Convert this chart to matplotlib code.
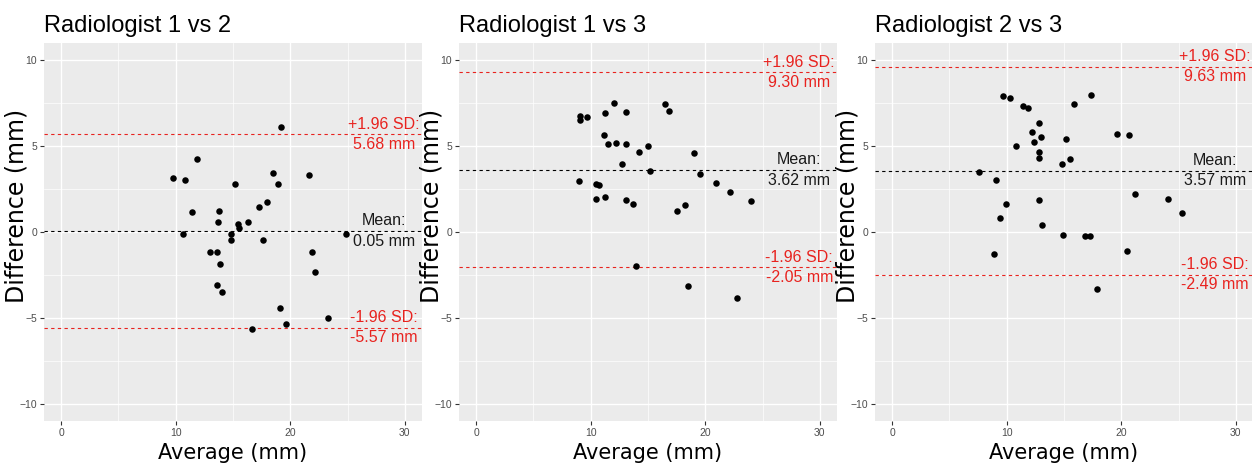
import matplotlib
matplotlib.use("Agg")
import matplotlib.pyplot as plt
import numpy as np

plt.rcParams['font.family'] = ['Liberation Sans', 'DejaVu Sans']

# Bland-Altman data (average, difference in mm)
titles = ["Radiologist 1 vs 2", "Radiologist 1 vs 3", "Radiologist 2 vs 3"]

avg_12 = [9.8, 10.8, 11.9, 11.4, 10.6, 15.2, 13.8, 13.7, 13.0, 13.6, 13.9, 13.6, 14.0,
          14.8, 14.8, 15.4, 15.5, 16.3, 17.3, 18.0, 17.6, 18.5, 18.9, 19.2, 21.6, 21.9,
          22.2, 19.1, 19.6, 16.7, 23.3, 24.9]
diff_12 = [3.17, 3.01, 4.25, 1.15, -0.14, 2.78, 1.20, 0.58, -1.18, -1.18, -1.86, -3.09, -3.51,
           -0.10, -0.47, 0.45, 0.21, 0.58, 1.46, 1.73, -0.47, 3.46, 2.78, 6.12, 3.34, -1.18,
           -2.31, -4.43, -5.38, -5.67, -4.99, -0.14]

avg_13 = [9.1, 9.1, 9.7, 11.25, 12.0, 13.1, 16.5, 16.8, 11.2, 11.5, 12.2, 13.1, 14.2,
          15.0, 12.7, 15.2, 19.0, 19.5, 20.9, 22.2, 24.0, 9.0, 10.5, 10.7, 10.5, 11.25,
          13.05, 13.7, 17.5, 18.2, 13.95, 18.5, 22.8]
diff_13 = [6.76, 6.54, 6.68, 6.93, 7.51, 6.97, 7.46, 7.07, 5.63, 5.11, 5.20, 5.15, 4.68,
           5.01, 3.96, 3.57, 4.58, 3.38, 2.85, 2.33, 1.81, 2.95, 2.82, 2.76, 1.94, 2.06,
           1.86, 1.61, 1.24, 1.57, -2.00, -3.15, -3.86]

avg_23 = [9.7, 10.3, 11.45, 11.85, 12.85, 12.2, 13.0, 12.35, 10.85, 12.85, 12.85, 15.2,
          15.5, 14.85, 15.9, 17.35, 19.6, 20.65, 7.55, 9.1, 9.95, 9.4, 12.85, 13.1, 14.9,
          16.8, 17.3, 20.5, 8.9, 21.2, 24.1, 25.3, 17.9]
diff_23 = [7.90, 7.80, 7.33, 7.24, 6.36, 5.84, 5.54, 5.21, 4.98, 4.65, 4.32, 5.41,
           4.26, 3.93, 7.47, 8.00, 5.70, 5.64, 3.50, 3.05, 1.63, 0.82, 1.87, 0.39, -0.19,
           -0.23, -0.23, -1.09, -1.28, 2.20, 1.91, 1.11, -3.33]

# mean difference and limits of agreement shown on each panel
mean_diff = [0.05, 3.62, 3.57]
upper_loa = [5.68, 9.30, 9.63]
lower_loa = [-5.57, -2.05, -2.49]

all_avg = [avg_12, avg_13, avg_23]
all_diff = [diff_12, diff_13, diff_23]

RED = '#e8231f'
PANEL_BG = '#ebebeb'


def draw_panel(ax, title, avg, diff, mean, upper, lower):
    ax.set_facecolor(PANEL_BG)
    for s in ax.spines.values():
        s.set_visible(False)

    ax.set_xlim(-1.5, 31.5)
    ax.set_ylim(-11, 11)
    ax.set_xticks([0, 10, 20, 30])
    ax.set_xticks([5, 15, 25], minor=True)
    ax.set_yticks([-10, -5, 0, 5, 10])
    ax.set_yticks([-7.5, -2.5, 2.5, 7.5], minor=True)
    ax.grid(True, which='major', color='white', linewidth=1.0)
    ax.grid(True, which='minor', color='white', linewidth=0.5)
    ax.set_axisbelow(True)
    ax.tick_params(which='major', length=3, width=0.8, color='#333333',
                   labelsize=7.5, labelcolor='#4d4d4d', pad=2)
    ax.tick_params(which='minor', length=0)

    ax.axhline(upper, color=RED, linestyle=(0, (3, 3)), linewidth=0.8)
    ax.axhline(mean, color='black', linestyle=(0, (3, 3)), linewidth=0.8)
    ax.axhline(lower, color=RED, linestyle=(0, (3, 3)), linewidth=0.8)

    ax.scatter(avg, diff, s=22, color='black', zorder=3, linewidths=0)

    tx = 28.2
    kw = dict(fontsize=11.5, ha='center', va='center',
              multialignment='center', linespacing=1.45)
    ax.text(tx, upper, f"+1.96 SD:\n{upper:.2f} mm", color=RED, **kw)
    ax.text(tx, mean, f"Mean:\n{mean:.2f} mm", color='#1a1a1a', **kw)
    ax.text(tx, lower, f"-1.96 SD:\n{lower:.2f} mm", color=RED, **kw)

    ax.set_title(title, loc='left', fontsize=17, pad=8)
    ax.set_xlabel("Average (mm)", fontsize=15, family='DejaVu Sans', va='baseline')
    ax.xaxis.set_label_coords(0.5, -0.1)
    ax.set_ylabel("Difference (mm)", fontsize=17, family='DejaVu Sans')
    ax.yaxis.set_label_coords(-0.04, 0.57)


W, H = 1252, 463
fig = plt.figure(figsize=(W / 100, H / 100), dpi=100)
lefts = [44, 459, 875]
for i in range(3):
    ax = fig.add_axes([lefts[i] / W, (H - 421) / H, 378 / W, 378 / H])
    draw_panel(ax, titles[i], all_avg[i], all_diff[i],
               mean_diff[i], upper_loa[i], lower_loa[i])

fig.savefig("out.png", dpi=100)
plt.close(fig)
